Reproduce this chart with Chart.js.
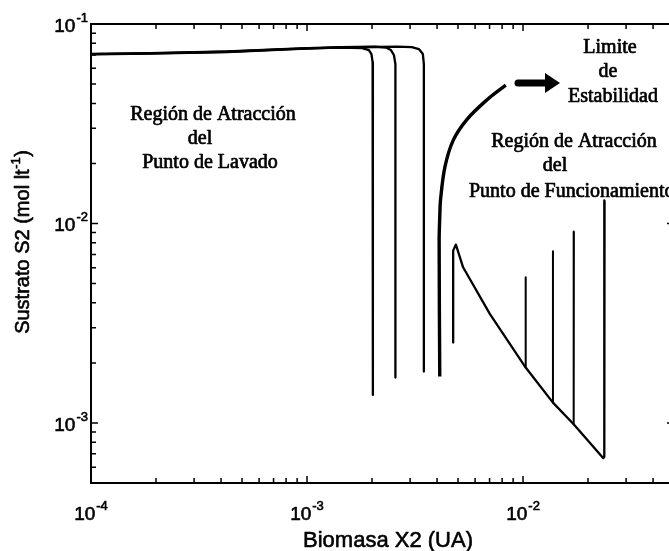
<!DOCTYPE html>
<html>
<head>
<meta charset="utf-8">
<script src="https://cdn.jsdelivr.net/npm/chart.js@4/dist/chart.umd.min.js"></script>
<style>
  html, body { margin: 0; padding: 0; background: #fff; overflow: hidden; }
  canvas { display: block; }
</style>
</head>
<body>
<canvas id="c" width="680" height="551"></canvas>
<script>
// Axis ranges and decade tick exponents (log–log plane)
const xRange = [1e-4, 5e-2];
const yRange = [5e-4, 1e-1];
const xDecades = [-4, -3, -2];
const yDecades = [-1, -2, -3];

// Trajectories falling to the washout point  [X2, S2]
const washoutA = [[1e-4, 0.0706], [1.88e-4, 0.0713], [4.27e-4, 0.0726], [9.28e-4, 0.0752],
  [1.42e-3, 0.0762], [1.80e-3, 0.0757], [1.935e-3, 0.0740], [1.987e-3, 0.0707],
  [2.012e-3, 0.0644], [2.018e-3, 1.382e-3]];
const washoutB = [[1e-4, 0.0708], [1.88e-4, 0.0715], [4.27e-4, 0.0728], [9.28e-4, 0.0755],
  [1.42e-3, 0.0766], [2.063e-3, 0.0769], [2.319e-3, 0.0762], [2.446e-3, 0.0740],
  [2.525e-3, 0.0699], [2.566e-3, 0.0630], [2.566e-3, 1.689e-3]];
const washoutC = [[1e-4, 0.0704], [1.88e-4, 0.0711], [4.27e-4, 0.0724], [9.28e-4, 0.0750],
  [1.42e-3, 0.0764], [2.6e-3, 0.0771], [3.057e-3, 0.0766], [3.295e-3, 0.0749],
  [3.438e-3, 0.0707], [3.475e-3, 0.0630], [3.475e-3, 1.811e-3]];

// Stability limit (separatrix)
const stabilityLimit = [[4.117e-3, 1.709e-3], [4.09e-3, 8.21e-3], [4.12e-3, 1.10e-2],
  [4.15e-3, 1.31e-2], [4.35e-3, 1.92e-2], [4.75e-3, 2.61e-2], [5.47e-3, 3.30e-2],
  [6.78e-3, 4.15e-2], [8.32e-3, 4.94e-2]];

// Trajectories converging on the operating point
const operating = [[0.02385, 0.01305], [0.02385, 8.12e-4], [0.02372, 6.75e-4], [0.02349, 6.67e-4],
  [0.01716, 9.85e-4], [0.01376, 1.265e-3], [0.01029, 1.896e-3], [7.02e-3, 3.52e-3],
  [5.28e-3, 6.03e-3], [4.89e-3, 7.84e-3], [4.75e-3, 7.31e-3], [4.75e-3, 2.53e-3]];
const branch1 = [[0.01029, 5.37e-3], [0.01029, 1.896e-3]];
const branch2 = [[0.01376, 7.26e-3], [0.01376, 1.265e-3]];
const branch3 = [[0.01720, 9.12e-3], [0.01716, 9.85e-4]];

const series = [
  { pts: washoutA, w: 2.3, t: 0 }, { pts: washoutB, w: 2.3, t: 0 }, { pts: washoutC, w: 2.3, t: 0 },
  { pts: stabilityLimit, w: 3.4, t: 0.35 }, { pts: operating, w: 2.3, t: 0 },
  { pts: branch1, w: 2, t: 0 }, { pts: branch2, w: 2, t: 0 }, { pts: branch3, w: 2, t: 0 }
];

const SANS = '"Liberation Sans", Arial, sans-serif';
const SERIF = '"Liberation Serif", "Times New Roman", serif';

// filled text with a thin outline so the glyphs carry a heavier ink
function inkText(ctx, s, x, y) {
  ctx.fillText(s, x, y);
  ctx.strokeText(s, x, y);
}

// Text with a raised exponent, anchored by alignment
function supText(ctx, base, exp, x, y, align, baseSize, expSize, rise) {
  ctx.font = baseSize + 'px ' + SANS;
  const wb = ctx.measureText(base).width;
  ctx.font = expSize + 'px ' + SANS;
  const we = ctx.measureText(exp).width;
  const total = wb + we + 1;
  let x0 = x;
  if (align === 'center') x0 = x - total / 2;
  else if (align === 'right') x0 = x - total;
  ctx.textAlign = 'left';
  ctx.textBaseline = 'alphabetic';
  ctx.font = baseSize + 'px ' + SANS;
  inkText(ctx, base, x0, y);
  ctx.font = expSize + 'px ' + SANS;
  inkText(ctx, exp, x0 + wb + 1, y - rise);
}

const framePlugin = {
  id: 'frame',
  afterDatasetsDraw(chart) {
    const ctx = chart.ctx;
    const xs = chart.scales.x, ys = chart.scales.y;
    const { left, right, top, bottom } = chart.chartArea;
    ctx.save();
    ctx.fillStyle = '#000';
    ctx.strokeStyle = '#000';

    // box
    ctx.lineWidth = 2;
    ctx.strokeRect(left, top, right - left, bottom - top);

    // inward ticks on all four sides
    ctx.lineWidth = 1.5;
    const ticksFor = (lo, hi) => {
      const out = [];
      for (let e = Math.floor(Math.log10(lo)); e <= Math.ceil(Math.log10(hi)); e++) {
        for (let m = 1; m <= 9; m++) {
          const v = m * Math.pow(10, e);
          if (v >= lo * 0.9999 && v <= hi * 1.0001) out.push({ v, major: m === 1 });
        }
      }
      return out;
    };
    ctx.beginPath();
    ticksFor(xRange[0], xRange[1]).forEach(t => {
      const px = xs.getPixelForValue(t.v);
      const len = t.major ? 7 : 5;
      ctx.moveTo(px, bottom); ctx.lineTo(px, bottom - len);
      ctx.moveTo(px, top); ctx.lineTo(px, top + len);
    });
    ticksFor(yRange[0], yRange[1]).forEach(t => {
      const py = ys.getPixelForValue(t.v);
      const len = t.major ? 7 : 5;
      ctx.moveTo(left, py); ctx.lineTo(left + len, py);
      ctx.moveTo(right, py); ctx.lineTo(right - len, py);
    });
    ctx.stroke();

    ctx.lineWidth = 0.6;
    ctx.lineJoin = 'round';

    // decade labels
    xDecades.forEach(e => {
      const px = xs.getPixelForValue(Math.pow(10, e));
      supText(ctx, '10', String(e), px, 520, 'center', 19, 13, 10);
    });
    yDecades.forEach(e => {
      const py = ys.getPixelForValue(Math.pow(10, e));
      supText(ctx, '10', String(e), 88, py + 8, 'right', 19, 13, 10);
    });

    // axis titles
    ctx.textAlign = 'center';
    ctx.textBaseline = 'alphabetic';
    ctx.font = '22px ' + SANS;
    inkText(ctx, 'Biomasa X2 (UA)', 388, 547);

    ctx.save();
    ctx.translate(29, 242);
    ctx.rotate(-Math.PI / 2);
    ctx.font = '20px ' + SANS;
    const t1 = 'Sustrato S2 (mol lt';
    const w1 = ctx.measureText(t1).width;
    ctx.font = '13px ' + SANS;
    const w2 = ctx.measureText('-1').width;
    ctx.font = '20px ' + SANS;
    const w3 = ctx.measureText(')').width;
    const tot = w1 + w2 + w3 + 1;
    let x0 = -tot / 2;
    ctx.textAlign = 'left';
    inkText(ctx, t1, x0, 0);
    ctx.font = '13px ' + SANS;
    inkText(ctx, '-1', x0 + w1 + 0.5, -9);
    ctx.font = '20px ' + SANS;
    inkText(ctx, ')', x0 + w1 + w2 + 1, 0);
    ctx.restore();

    // region annotations
    ctx.font = '20px ' + SERIF;
    ctx.lineWidth = 0.7;
    ctx.textAlign = 'center';
    inkText(ctx, 'Región de Atracción', 213, 120);
    inkText(ctx, 'del', 200, 144);
    inkText(ctx, 'Punto de Lavado', 210, 168);

    inkText(ctx, 'Limite', 610, 53);
    inkText(ctx, 'de', 608, 77);
    inkText(ctx, 'Estabilidad', 613, 102);

    inkText(ctx, 'Región de Atracción', 574, 147);
    inkText(ctx, 'del', 555, 171);
    ctx.textAlign = 'left';
    inkText(ctx, 'Punto de Funcionamiento', 469, 197);

    // arrow pointing to the stability label
    ctx.lineCap = 'round';
    ctx.lineWidth = 7;
    ctx.beginPath();
    ctx.moveTo(518, 83); ctx.lineTo(548, 83);
    ctx.stroke();
    ctx.beginPath();
    ctx.moveTo(545, 73); ctx.lineTo(560, 83); ctx.lineTo(545, 93);
    ctx.closePath();
    ctx.fill();

    ctx.restore();
  }
};

new Chart(document.getElementById('c'), {
  type: 'scatter',
  data: {
    datasets: series.map(s => ({
      data: s.pts.map(([x, y]) => ({ x, y })),
      showLine: true,
      borderColor: '#000',
      backgroundColor: '#000',
      borderWidth: s.w,
      pointRadius: 0,
      tension: s.t,
      fill: false,
      borderJoinStyle: 'round',
      borderCapStyle: 'butt'
    }))
  },
  options: {
    responsive: false,
    animation: false,
    layout: { padding: { left: 91, top: 24, right: 6, bottom: 68 } },
    plugins: { legend: { display: false }, tooltip: { enabled: false } },
    scales: {
      x: { type: 'logarithmic', min: xRange[0], max: xRange[1], display: false },
      y: { type: 'logarithmic', min: yRange[0], max: yRange[1], display: false }
    }
  },
  plugins: [framePlugin]
});
</script>
</body>
</html>
